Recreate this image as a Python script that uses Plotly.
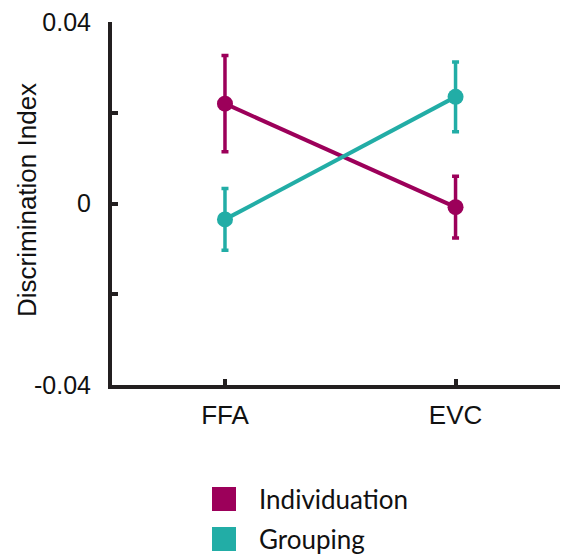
import plotly.graph_objects as go

categories = ["FFA", "EVC"]
individuation = [0.0220, -0.0008]
individuation_err = [0.0106, 0.0068]
grouping = [-0.0035, 0.0235]
grouping_err = [0.0068, 0.0077]
y_tickvals = [-0.04, -0.02, 0, 0.02, 0.04]
y_ticktext = ["-0.04", "", "0", "", "0.04"]

MAGENTA = "#9C005A"
TEAL = "#22ADA6"
AXIS = "#231F20"

W, H = 563, 556
L, R, T, B = 112, 3, 22, 171
PW, PH = W - L - R, H - T - B


def px(x):
    return (x - L) / PW


def py(y):
    return (H - B - y) / PH


fig = go.Figure()
xs = [0, 1]
for name, vals, errs, col in [("Individuation", individuation, individuation_err, MAGENTA),
                              ("Grouping", grouping, grouping_err, TEAL)]:
    fig.add_trace(go.Scatter(
        x=xs, y=vals, name=name, mode="lines+markers",
        line=dict(color=col, width=4),
        marker=dict(color=col, size=16),
        error_y=dict(type="data", array=errs, color=col, thickness=3.5, width=3.5),
        showlegend=False,
    ))

# legend drawn manually
legend_items = [("Individuation", MAGENTA, 499), ("Grouping", TEAL, 539)]
for label, col, yc in legend_items:
    fig.add_shape(type="rect", xref="paper", yref="paper",
                  x0=px(212), x1=px(236), y0=py(yc - 12), y1=py(yc + 12),
                  fillcolor=col, line=dict(width=0))
    fig.add_annotation(text=label, xref="paper", yref="paper",
                       x=px(257), y=py(yc),
                       xanchor="left", yanchor="middle", showarrow=False,
                       font=dict(family="Lato", size=26, color="#111"))

# y-axis title
fig.add_annotation(text="Discrimination Index", xref="paper", yref="paper",
                   x=px(27), y=py(200), textangle=-90,
                   xanchor="center", yanchor="middle", showarrow=False,
                   font=dict(family="Liberation Sans, Arial", size=26, color="#111"))

fig.update_layout(
    width=W, height=H,
    margin=dict(l=L, r=R, t=T, b=B),
    plot_bgcolor="white", paper_bgcolor="white",
    font=dict(family="Liberation Sans, Arial", size=22, color="#111"),
    xaxis=dict(
        tickvals=xs, ticktext=categories, range=[-0.490, 1.453],
        showline=True, linecolor=AXIS, linewidth=4,
        ticks="inside", ticklen=6, tickwidth=4, tickcolor=AXIS,
        showgrid=False, zeroline=False,
        tickfont=dict(size=26), ticklabelstandoff=4,
    ),
    yaxis=dict(
        tickvals=y_tickvals, ticktext=y_ticktext, range=[-0.04, 0.04],
        showline=True, linecolor=AXIS, linewidth=4,
        ticks="inside", ticklen=6, tickwidth=4, tickcolor=AXIS,
        showgrid=False, zeroline=False,
        tickfont=dict(size=25), ticklabelstandoff=12,
    ),
)

fig.write_html("out.html", config={"displayModeBar": False},
               post_script="document.body.style.margin='0px';")
